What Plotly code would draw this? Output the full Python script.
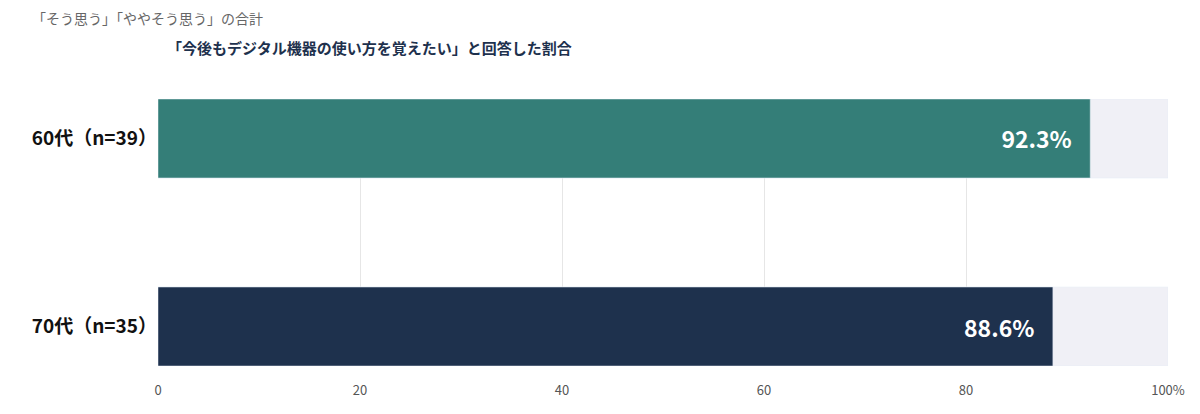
import plotly.graph_objects as go

groups = ["70代（n=35）", "60代（n=39）"]
values = [88.6, 92.3]
colors = ["#1e314d", "#347e78"]
full = [100, 100]
tick_vals = [0, 20, 40, 60, 80, 100]
tick_text = ["0", "20", "40", "60", "80", "100%"]

font = "Noto Sans CJK JP"

fig = go.Figure()
fig.add_trace(go.Bar(y=groups, x=full, orientation="h", marker_color="#f0f0f6",
                     hoverinfo="skip", showlegend=False))
fig.add_trace(go.Bar(y=groups, x=values, orientation="h", marker_color=colors,
                     text=[f"<b>{v}%</b>   " for v in values], textposition="inside",
                     insidetextanchor="end",
                     textfont=dict(color="white", size=23, family=font),
                     showlegend=False))

fig.update_layout(
    barmode="overlay", bargap=0.58,
    width=1200, height=414,
    margin=dict(l=150, r=40, t=91, b=56),
    plot_bgcolor="white", paper_bgcolor="white",
    font=dict(family=font),
    xaxis=dict(range=[0, 100], tickvals=tick_vals, ticktext=tick_text,
               showgrid=True, gridcolor="#e6e6e6", zeroline=False,
               ticks="outside", ticklen=12, tickcolor="rgba(0,0,0,0)",
               tickfont=dict(size=13, color="#555"), layer="below traces"),
    yaxis=dict(range=[-0.21, 1.21], tickfont=dict(size=19, color="#111"),
               tickvals=groups, ticktext=[f"<b>{g}</b>" for g in groups],
               ticksuffix=" "),
    annotations=[
        dict(text="「そう思う」「ややそう思う」の合計", xref="paper", yref="paper",
             x=(30 - 158) / 1010, y=1 + (99 - 18) / 267, xanchor="left", yanchor="middle",
             showarrow=False, font=dict(size=14, color="#666")),
        dict(text="<b>「今後もデジタル機器の使い方を覚えたい」と回答した割合</b>",
             xref="paper", yref="paper", x=7 / 1010, y=1 + (99 - 48) / 267,
             xanchor="left", yanchor="middle", showarrow=False,
             font=dict(size=15, color="#1e314d")),
    ],
)
fig.write_html("out.html")
